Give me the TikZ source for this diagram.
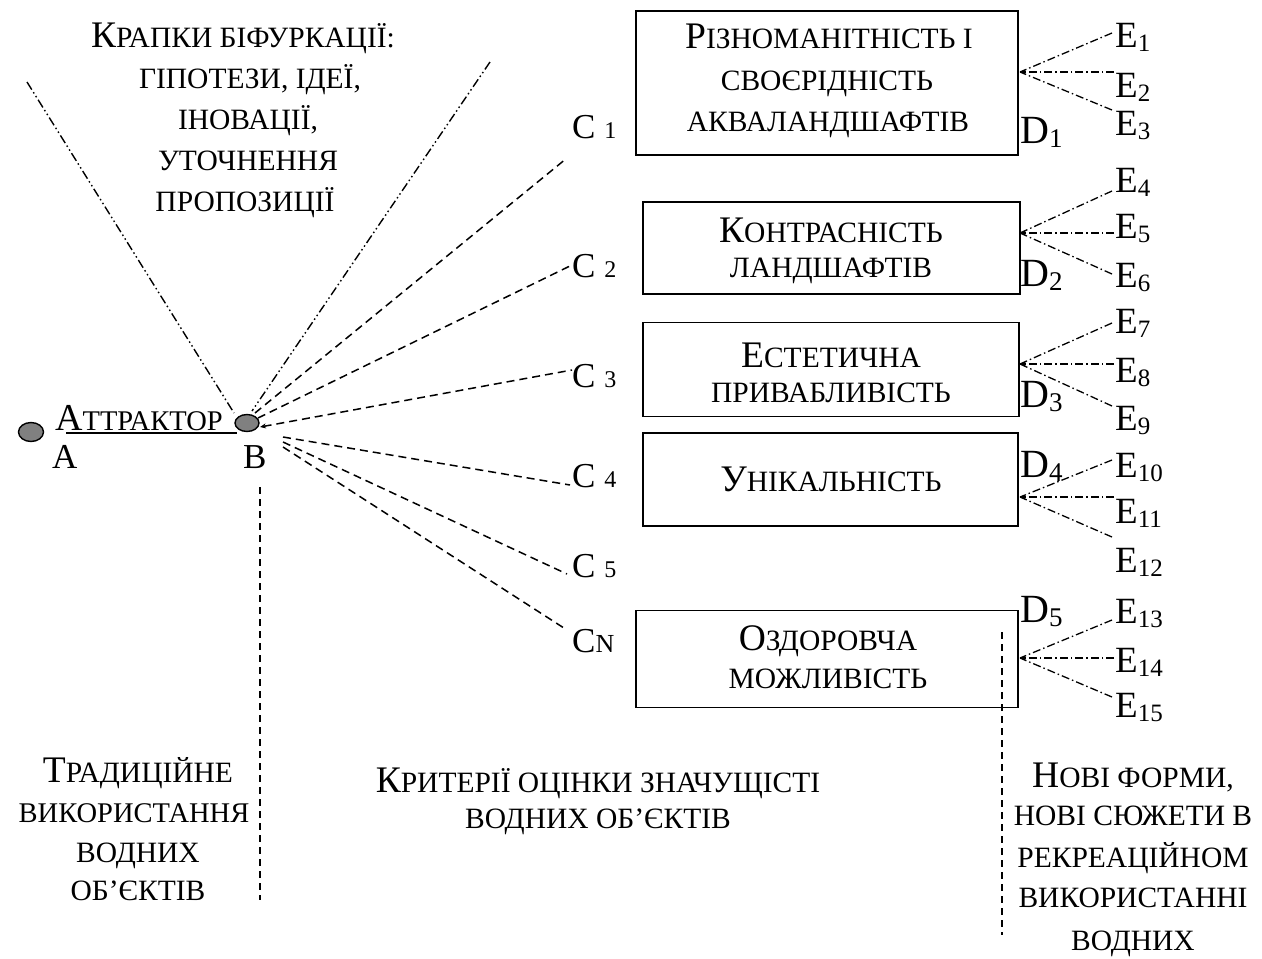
\documentclass[tikz,border=0pt]{standalone}
\usepackage{fontspec}
\setmainfont{Liberation Serif}
\usetikzlibrary{shapes.geometric,arrows.meta}
\definecolor{dotgray}{RGB}{128,128,128}
\newcommand{\Bg}[1]{{\fontsize{37.5}{37.5}\selectfont #1}}
\newcommand{\Sbs}[1]{\raisebox{-4pt}{\fontsize{25}{25}\selectfont #1}}
\newcommand{\Dsub}[1]{\raisebox{-4pt}{\fontsize{27}{27}\selectfont #1}}
\newcommand{\Csub}[1]{{\fontsize{24}{24}\selectfont #1}}
\begin{document}
\begin{tikzpicture}[x=1pt,y=-1pt,
  txt/.style={anchor=base, inner sep=0pt, font=\fontsize{29.5}{29.5}\selectfont},
  lbl/.style={anchor=base west, inner sep=0pt, font=\fontsize{35}{35}\selectfont},
  elbl/.style={anchor=base west, inner sep=0pt, font=\fontsize{37}{37}\selectfont},
  dlbl/.style={anchor=base west, inner sep=0pt, font=\fontsize{40}{40}\selectfont},
  boxnode/.style={draw, line width=1.6pt, inner sep=0pt},
  dotnode/.style={ellipse, draw, line width=1.4pt, fill=dotgray, inner sep=0pt},
  cline/.style={line width=1.5pt, dash pattern=on 8pt off 5pt},
  bline/.style={line width=1.4pt, dash pattern=on 9pt off 3pt on 1.5pt off 3pt on 1.5pt off 3pt},
  eline/.style={line width=1.3pt, dash pattern=on 8pt off 3pt on 1.5pt off 3pt},
  vline/.style={line width=1.5pt, dash pattern=on 7pt off 5pt},
  tip/.style={-{Stealth[length=6pt,width=5pt]}}
]
\useasboundingbox (0,0) rectangle (1262,959);

% boxes
\node[boxnode, minimum width=382pt, minimum height=144pt] (b1) at (827,83) {};
\node[boxnode, minimum width=377pt, minimum height=92pt] (b2) at (831.5,248) {};
\node[boxnode, minimum width=376pt, minimum height=94pt] (b3) at (831,369.5) {};
\node[boxnode, minimum width=375pt, minimum height=93pt] (b4) at (830.5,479.5) {};
\node[boxnode, minimum width=382pt, minimum height=97pt] (b5) at (827,659) {};

% box texts
\node[txt] (t11) at (829,48) {\Bg{Р}ІЗНОМАНІТНІСТЬ І};
\node[txt] (t12) at (827,90) {СВОЄРІДНІСТЬ};
\node[txt] (t13) at (828,131) {АКВАЛАНДШАФТІВ};
\node[txt] (t21) at (831,242) {\Bg{К}ОНТРАСНІСТЬ};
\node[txt] (t22) at (831,277) {ЛАНДШАФТІВ};
\node[txt] (t31) at (831,367) {\Bg{Е}СТЕТИЧНА};
\node[txt] (t32) at (831,402) {ПРИВАБЛИВІСТЬ};
\node[txt] (t41) at (831,491) {\Bg{У}НІКАЛЬНІСТЬ};
\node[txt] (t51) at (828,650) {\Bg{О}ЗДОРОВЧА};
\node[txt] (t52) at (828,688) {МОЖЛИВІСТЬ};

% top caption
\node[txt] (k1) at (243,47) {\Bg{К}РАПКИ БІФУРКАЦІЇ:};
\node[txt] (k2) at (250,88) {ГІПОТЕЗИ, ІДЕЇ,};
\node[txt] (k3) at (248,129) {ІНОВАЦІЇ,};
\node[txt] (k4) at (248,170) {УТОЧНЕННЯ};
\node[txt] (k5) at (245,211) {ПРОПОЗИЦІЇ};

% bottom captions
\node[txt] (r1) at (138,782) {\Bg{Т}РАДИЦІЙНЕ};
\node[txt, font=\fontsize{28.5}{28.5}\selectfont] (r2) at (134,822) {ВИКОРИСТАННЯ};
\node[txt] (r3) at (138,862) {ВОДНИХ};
\node[txt] (r4) at (138,900) {ОБ’ЄКТІВ};
\node[txt] (m1) at (598,792) {\Bg{К}РИТЕРІЇ ОЦІНКИ ЗНАЧУЩІСТІ};
\node[txt] (m2) at (598,828) {ВОДНИХ ОБ’ЄКТІВ};
\node[txt] (n1) at (1133,787) {\Bg{Н}ОВІ ФОРМИ,};
\node[txt] (n2) at (1133,825) {НОВІ СЮЖЕТИ В};
\node[txt] (n3) at (1133,867) {РЕКРЕАЦІЙНОМ};
\node[txt] (n4) at (1133,907) {ВИКОРИСТАННІ};
\node[txt] (n5) at (1133,950) {ВОДНИХ};

% attractor
\node[dotnode, minimum width=25pt, minimum height=19pt] (A) at (31,432) {};
\node[dotnode, minimum width=24pt, minimum height=17pt] (B) at (247,423) {};
\node[anchor=base west, inner sep=0pt] (att) at (55,430) {{\fontsize{38}{38}\selectfont А}{\fontsize{28.5}{28.5}\selectfont ТТРАКТОР}};
\node[lbl] (la) at (52,468) {A};
\node[lbl] (lb) at (243,468) {B};
\coordinate (u1) at (66,433);
\coordinate (u2) at (237,433);
\draw[line width=1.4pt] (u1) -- (u2);

% bifurcation lines
\coordinate (p1) at (27,82);
\coordinate (p2) at (490,62);
\coordinate (q1) at (234,413);
\coordinate (q2) at (252,411);
\draw[bline] (p1) -- (q1);
\draw[bline] (p2) -- (q2);

% C labels
\node[lbl] (c1) at (572,138) {C \Csub{1}};
\node[lbl] (c2) at (572,277) {C \Csub{2}};
\node[lbl] (c3) at (572,387) {C \Csub{3}};
\node[lbl] (c4) at (572,487) {C \Csub{4}};
\node[lbl] (c5) at (572,577) {C \Csub{5}};
\node[lbl] (cn) at (572,652) {C{\fontsize{26}{26}\selectfont N}};

\coordinate (s1) at (255,413);
\coordinate (s2) at (258,418);
\coordinate (s3) at (260,427);
\coordinate (s4) at (283,437);
\coordinate (s5) at (283,442);
\coordinate (s6) at (283,447);
\coordinate (f1) at (567,158);
\coordinate (f2) at (572,265);
\coordinate (f3) at (572,370);
\coordinate (f4) at (570,485);
\coordinate (f5) at (567,574);
\coordinate (f6) at (567,630);
\draw[cline] (s1) -- (f1);
\draw[cline] (s2) -- (f2);
\draw[cline, {Stealth[length=6pt,width=5pt]}-] (s3) -- (f3);
\draw[cline] (s4) -- (f4);
\draw[cline] (s5) -- (f5);
\draw[cline] (s6) -- (f6);

% vertical lines
\coordinate (v1) at (260,487);
\coordinate (v2) at (260,900);
\coordinate (w1) at (1002,632);
\coordinate (w2) at (1002,935);
\draw[vline] (v1) -- (v2);
\draw[vline] (w1) -- (w2);

% D labels
\node[dlbl] (d1) at (1020,143) {D\Dsub{1}};
\node[dlbl] (d2) at (1020,286) {D\Dsub{2}};
\node[dlbl] (d3) at (1020,407) {D\Dsub{3}};
\node[dlbl] (d4) at (1020,477) {D\Dsub{4}};
\node[dlbl] (d5) at (1020,622) {D\Dsub{5}};

% E labels
\node[elbl] (e1) at (1115,47) {E\Sbs{1}};
\node[elbl] (e2) at (1115,97) {E\Sbs{2}};
\node[elbl] (e3) at (1115,135) {E\Sbs{3}};
\node[elbl] (e4) at (1115,192) {E\Sbs{4}};
\node[elbl] (e5) at (1115,238) {E\Sbs{5}};
\node[elbl] (e6) at (1115,287) {E\Sbs{6}};
\node[elbl] (e7) at (1115,333) {E\Sbs{7}};
\node[elbl] (e8) at (1115,382) {E\Sbs{8}};
\node[elbl] (e9) at (1115,430) {E\Sbs{9}};
\node[elbl] (e10) at (1115,477) {E\Sbs{10}};
\node[elbl] (e11) at (1115,523) {E\Sbs{11}};
\node[elbl] (e12) at (1115,572) {E\Sbs{12}};
\node[elbl] (e13) at (1115,623) {E\Sbs{13}};
\node[elbl] (e14) at (1115,672) {E\Sbs{14}};
\node[elbl] (e15) at (1115,717) {E\Sbs{15}};

% E connectors
\coordinate (g1) at (1020,72);
\coordinate (g2) at (1020,233);
\coordinate (g3) at (1020,364);
\coordinate (g4) at (1020,497);
\coordinate (g5) at (1020,658);
\foreach \g/\ya/\yb/\yc in {g1/33/72/110, g2/191/233/274, g3/323/364/406, g4/460/497/537, g5/620/658/697}{
  \draw[eline] (1112,\ya) -- (\g);
  \draw[eline, tip] (1114,\yb) -- (\g);
  \draw[eline] (1112,\yc) -- (\g);
}
\end{tikzpicture}
\end{document}
